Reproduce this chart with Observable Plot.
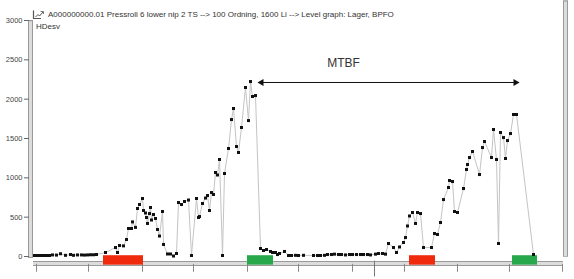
<!DOCTYPE html>
<html><head><meta charset="utf-8">
<script src="https://cdn.jsdelivr.net/npm/d3@7"></script>
<script src="https://cdn.jsdelivr.net/npm/@observablehq/plot@0.6"></script>
<style>
body{margin:0;background:#fff;}
#wrap{position:relative;width:574px;height:279px;font-family:"Liberation Sans",Arial,sans-serif;overflow:hidden;}
#title{position:absolute;left:48px;top:10px;font-size:8px;color:#333;white-space:nowrap;letter-spacing:0px;}
#sub{position:absolute;left:36px;top:22px;font-size:8px;color:#333;}
#icon{position:absolute;left:32px;top:9px;}
</style></head><body>
<div id="wrap">
<div id="chart"></div>
<svg id="icon" width="13" height="11"><path d="M1.5 1.5V9.5H9" fill="none" stroke="#555" stroke-width="1.2"/><path d="M3.5 8L6 5.5L7.5 7L11 3" fill="none" stroke="#555" stroke-width="1"/><path d="M8.5 2.5H11.5V5" fill="none" stroke="#555" stroke-width="0.8"/></svg>
<div id="title">A000000000.01 Pressroll 6 lower nip 2 TS --&gt; 100 Ordning, 1600 Li --&gt; Level graph: Lager, BPFO</div>
<div id="sub">HDesv</div>
</div>
<script>
// sample position along the time axis and measured level (HDesv)
const sampleX = [1,4,7,10,13,16,19,23,27,32,37,40,44,48,51,54,57,60,63,
72,82,84,86,90,93,95,98,99,102,104,106,109,110,112,113,114,116,117,118,120,122,124,126,129,130,134,137,140,143,145,148,151,155,158,163,165,166,169,172,174,176,178,180,182,184,186,189,191,195,198,200,203,205,208,212,215,217,219,222,
227,230,233,237,239,242,244,246,251,255,258,262,265,270,280,284,287,291,294,298,301,305,308,312,316,319,323,327,330,334,337,342,345,349,352,
355,360,363,366,370,372,374,376,379,382,384,387,390,398,401,404,407,410,415,416,419,421,424,430,433,434,436,439,446,449,451,458,460,463,465,467,470,472,474,477,480,483,500];
const valueY = [13,13,13,13,13,13,20,18,35,15,25,15,20,20,18,20,22,22,25,
51,114,51,140,135,216,356,356,440,370,610,661,737,585,553,496,420,546,623,464,534,483,343,260,572,153,32,32,6,38,686,661,699,718,13,737,496,508,674,743,775,585,813,788,1068,1036,1233,13,1055,1373,1741,1881,1398,1322,1640,2148,1728,2224,2034,2046,
102,76,89,64,51,51,25,38,64,13,13,15,13,15,13,13,13,15,25,25,30,25,25,20,25,25,25,25,25,25,20,30,38,38,30,
165,114,51,121,178,241,388,515,559,420,559,546,114,114,292,280,432,724,877,966,953,572,559,864,1106,1169,1258,1335,1042,1385,1462,1258,1614,1233,165,1576,1512,1246,1474,1563,1805,1805,25];

const yTicks = [0,500,1000,1500,2000,2500,3000];
const xTicks = [3,55,109,160,214,265,319,371,424,476,529];
const xMajorTicks = [341];

// stop / start events shown on the time bar
const eventStart = [70,214,376,479];
const eventEnd = [110,240,402,504];
const eventType = ["Stopp","Start","Stopp","Start"];

// MTBF annotation
const mtbfFrom = [225];
const mtbfTo = [485];
const mtbfLevel = [2212];
const mtbfLabel = ["MTBF"];
const mtbfLabelX = [310];

const series = sampleX.map((x,i)=>({x, y: valueY[i]}));
const events = eventStart.map((s,i)=>({start:s, end:eventEnd[i], type:eventType[i]}));
const mtbf = mtbfFrom.map((a,i)=>({from:a, to:mtbfTo[i], level:mtbfLevel[i], label:mtbfLabel[i], lx:mtbfLabelX[i]}));

const chart = Plot.plot({
  width: 574, height: 279,
  marginLeft: 33, marginRight: 11, marginTop: 20, marginBottom: 23,
  style: {fontFamily: "'Liberation Sans', Arial, sans-serif", background: "transparent"},
  x: {domain: [0,530], axis: null},
  y: {domain: [0,3000], axis: null},
  color: {domain: ["Stopp","Start"], range: ["#f02a0c","#27a84a"]},
  marks: [
    // left vertical bar
    Plot.ruleX([0], {dx: -3, y1: 3000, y2: -25, stroke: "#9a9a9a", strokeWidth: 5}),
    Plot.ruleX([0], {dx: -3, y1: 2985, y2: -12, stroke: "#dcdcdc", strokeWidth: 3}),
    // right vertical bar
    Plot.ruleX([530], {dx: 2, y1: 3250, y2: -10, stroke: "#9a9a9a", strokeWidth: 5}),
    Plot.ruleX([530], {dx: 2, y1: 3235, y2: 0, stroke: "#dcdcdc", strokeWidth: 3}),
    // bottom time bar
    Plot.ruleY([0], {dy: 7, stroke: "#9a9a9a", strokeWidth: 5}),
    Plot.ruleY([0], {dy: 7, stroke: "#dcdcdc", strokeWidth: 3}),
    Plot.ruleX(xTicks, {x: d=>d, y1: -100, y2: -200, stroke: "#888", strokeWidth: 1}),
    Plot.ruleX(xMajorTicks, {x: d=>d, y1: -60, y2: -260, stroke: "#777", strokeWidth: 1}),
    // y axis
    Plot.axisY({ticks: yTicks, tickFormat: d3.format("d"), tickSize: 5, tickPadding: 2, dx: -4, fontSize: 7.5, color: "#444", stroke: "#666"}),
    // events
    Plot.rect(events, {x1: "start", x2: "end", y1: -110, y2: 10, fill: "type"}),
    // series
    Plot.line(series, {x: "x", y: "y", stroke: "#c4c4c4", strokeWidth: 1}),
    Plot.dot(series, {x: "x", y: "y", symbol: "square", r: 1.7, fill: "#111", stroke: "none"}),
    // MTBF arrow
    Plot.link(mtbf, {x1: "from", x2: "to", y1: "level", y2: "level", stroke: "#111", strokeWidth: 1}),
    Plot.dot(mtbf, {x: "from", y: "level", symbol: "triangle", rotate: -90, r: 2.6, fill: "#111", stroke: "none", dx: 3}),
    Plot.dot(mtbf, {x: "to", y: "level", symbol: "triangle", rotate: 90, r: 2.6, fill: "#111", stroke: "none", dx: -3}),
    Plot.text(mtbf, {x: "lx", y: "level", text: "label", dy: -19, fontSize: 12, fill: "#333"})
  ]
});
document.getElementById("chart").appendChild(chart);
</script>
</body></html>
